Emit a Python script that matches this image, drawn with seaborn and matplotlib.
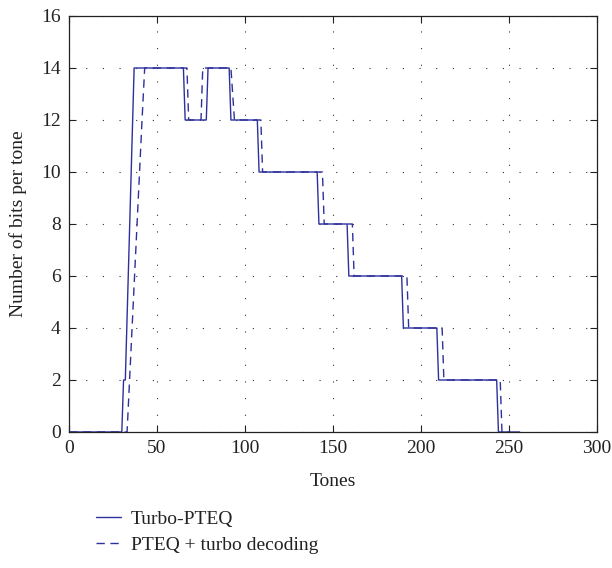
import matplotlib
matplotlib.use("Agg")
import matplotlib.pyplot as plt
import seaborn as sns
import pandas as pd

sns.set_theme(style="white")
plt.rcParams['font.family'] = ['Liberation Serif', 'DejaVu Serif']

# Turbo-PTEQ (solid)
tones_a = [0, 30, 31, 32, 37, 65, 66, 78, 79, 91, 92, 107, 108, 141, 142, 158, 159, 189, 190, 209, 210, 243, 244, 256]
bits_a = [0, 0, 2, 2, 14, 14, 12, 12, 14, 14, 12, 12, 10, 10, 8, 8, 6, 6, 4, 4, 2, 2, 0, 0]

# PTEQ + turbo decoding (dashed)
tones_b = [0, 33, 41.5, 43, 67, 68, 75, 76, 92, 94, 109, 110, 144, 145, 161, 162, 192, 193, 212, 213, 245, 246, 250]
bits_b = [0, 0, 12, 14, 14, 12, 12, 14, 14, 12, 12, 10, 10, 8, 8, 6, 6, 4, 4, 2, 2, 0, 0]

label_a = "Turbo-PTEQ"
label_b = "PTEQ + turbo decoding"

df_a = pd.DataFrame({"Tones": tones_a, "bits": bits_a})
df_b = pd.DataFrame({"Tones": tones_b, "bits": bits_b})

color = "#2d319c"
fig = plt.figure(figsize=(6.12, 5.68), dpi=100)
ax = fig.add_axes([69/612, 1-432/568, (597-69)/612, (432-16)/568])

sns.lineplot(data=df_a, x="Tones", y="bits", ax=ax, color=color, lw=1.0,
             label=label_a, sort=False, estimator=None)
sns.lineplot(data=df_b, x="Tones", y="bits", ax=ax, color=color, lw=1.0,
             linestyle=(0, (6, 4)), label=label_b, sort=False, estimator=None)

ax.set_xlim(0, 300)
ax.set_ylim(0, 16)
ax.set_xticks(range(0, 301, 50))
ax.set_yticks(range(0, 17, 2))
ax.grid(True, color="#333333", linestyle=(0, (1, 14)), linewidth=0.8)
for s in ax.spines.values():
    s.set_color("#222222")
    s.set_linewidth(0.9)
ax.tick_params(direction="in", length=5, width=0.8, top=True, right=True,
               bottom=True, left=True, labelsize=14, colors="#222222",
               pad=6)
ax.set_xlabel("Tones", fontsize=14, labelpad=11, color="#222222")
ax.set_ylabel("Number of bits per tone", fontsize=14, labelpad=10, color="#222222")

leg = ax.legend(loc="upper left", bbox_to_anchor=(96/612, 1-510/568),
                bbox_transform=fig.transFigure, frameon=False, fontsize=14,
                handlelength=1.3, handletextpad=0.5, labelspacing=0.45,
                borderaxespad=0, borderpad=0)
for t in leg.get_texts():
    t.set_color("#222222")

fig.savefig("out.png", dpi=100)
